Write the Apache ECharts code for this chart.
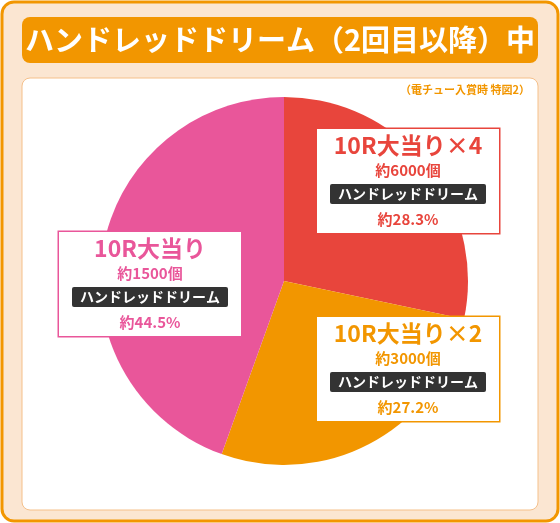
<!DOCTYPE html>
<html><head><meta charset="utf-8">
<script src="https://cdn.jsdelivr.net/npm/echarts@6/dist/echarts.min.js"></script>
<style>html,body{margin:0;padding:0;background:#fff}#c{width:560px;height:523px}</style>
</head><body><div id="c"></div>
<script>
const titleText = 'ハンドレッドドリーム（2回目以降）中';
const noteText = '（電チュー入賞時 特図2）';
const names = ['10R大当り×4', '10R大当り×2', '10R大当り'];
const counts = ['約6000個', '約3000個', '約1500個'];
const tagText = 'ハンドレッドドリーム';
const values = [28.3, 27.2, 44.5];
const colors = ['#e8453c', '#f29600', '#e9569a'];
const labelPos = [[408, 181], [408, 369], [150, 284]];

const chart = echarts.init(document.getElementById('c'));
const font = '"Noto Sans CJK JP", sans-serif';
chart.setOption({
  animation: false,
  graphic: [
    {type:'rect', shape:{x:2,y:2,width:556,height:519,r:12}, style:{fill:'#fbe6d2', stroke:'#f29600', lineWidth:3}, z:-10},
    {type:'rect', shape:{x:22,y:17,width:516,height:46,r:8}, style:{fill:'#f29600'}, z:-5},
    {type:'text', x:280, y:40, style:{text:titleText, fill:'#fff', font:'bold 29px '+font, align:'center', verticalAlign:'middle'}},
    {type:'rect', shape:{x:22,y:78,width:516,height:432,r:8}, style:{fill:'#fff', stroke:'#f5c08a', lineWidth:1}, z:-5},
    {type:'text', x:530, y:90, style:{text:noteText, fill:'#f29600', font:'bold 11px '+font, align:'right', verticalAlign:'middle'}}
  ],
  series: [{
    type: 'pie',
    center: [284, 281],
    radius: [0, 184],
    startAngle: 90,
    clockwise: true,
    silent: true,
    data: values.map((v, i) => ({value: v, name: names[i], itemStyle: {color: colors[i]},
      label: {
        formatter: '{t|' + names[i] + '}\n{c|' + counts[i] + '}\n{k|' + tagText + '}\n{p|約' + v.toFixed(1) + '%}',
        borderColor: colors[i],
        rich: {
          t: {fontSize: 23, fontWeight: 'bold', color: colors[i], fontFamily: font, lineHeight: 28},
          c: {fontSize: 15, fontWeight: 'bold', color: colors[i], fontFamily: font, lineHeight: 22},
          k: {fontSize: 14, fontWeight: 'bold', color: '#fff', backgroundColor: '#333', fontFamily: font, padding: [3, 8], borderRadius: 2, lineHeight: 26},
          p: {fontSize: 15, fontWeight: 'bold', color: colors[i], fontFamily: font, lineHeight: 24}
        }
      }})),
    label: {
      show: true, position: 'inside', backgroundColor: '#fff', borderWidth: 1.5,
      padding: [2, 6], width: 170, align: 'center'
    },
    labelLine: {show: false},
    labelLayout: function (p) { return {x: labelPos[p.dataIndex][0], y: labelPos[p.dataIndex][1], align: 'center', verticalAlign: 'middle'}; }
  }]
});
</script></body></html>
